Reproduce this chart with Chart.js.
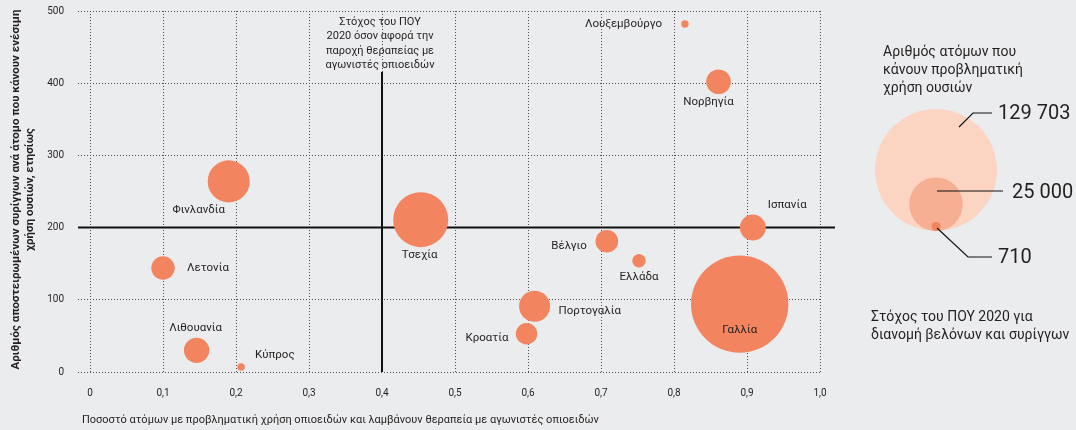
<!DOCTYPE html>
<html>
<head>
<meta charset="utf-8">
<script src="https://cdn.jsdelivr.net/npm/chart.js@4/dist/chart.umd.min.js"></script>
<style>
  html, body { margin: 0; padding: 0; background: #EBECEE; }
  #wrap { width: 1076px; height: 430px; }
</style>
</head>
<body>
<div id="wrap"><canvas id="c" width="1076" height="430"></canvas></div>
<script>
// ---------- DATA ----------
const countries = ['Λουξεμβούργο','Νορβηγία','Φινλανδία','Τσεχία','Ισπανία','Γαλλία','Βέλγιο','Ελλάδα','Λετονία','Πορτογαλία','Κροατία','Λιθουανία','Κύπρος'];
// share of high-risk opioid users in opioid agonist treatment
const treatmentShare = [0.815, 0.861, 0.190, 0.453, 0.908, 0.890, 0.708, 0.752, 0.100, 0.609, 0.598, 0.146, 0.207];
// syringes distributed per person who injects drugs, per year
const syringesPerPerson = [482, 402, 264, 211, 200, 94, 181, 154, 144, 91, 53, 30, 7];
// number of people with problem drug use (bubble size)
const problemUsers = [480, 5300, 15400, 26400, 5900, 82600, 4450, 1560, 4770, 8400, 4000, 5600, 480];

const xTickLabels = ['0','0,1','0,2','0,3','0,4','0,5','0,6','0,7','0,8','0,9','1,0'];
const yTickValues = [0, 100, 200, 300, 400, 500];

const legendValues = [129703, 25000, 710];
const treatmentTarget = 0.4;   // WHO 2020 target, OAT coverage
const syringeTarget = 200;     // WHO 2020 target, syringes per person

const yTitle = ['Αριθμός αποστειρωμένων συρίγγων ανά άτομο που κάνουν ενέσιμη', 'χρήση ουσιών, ετησίως'];
const xTitle = 'Ποσοστό ατόμων με προβληματική χρήση οπιοειδών και λαμβάνουν θεραπεία με αγωνιστές οπιοειδών';
const treatmentTargetText = ['Στόχος του ΠΟΥ', '2020 όσον αφορά την', 'παροχή θεραπείας με', 'αγωνιστές οπιοειδών'];
const legendTitle = ['Αριθμός ατόμων που', 'κάνουν προβληματική', 'χρήση ουσιών'];
const legendLabels = ['129 703', '25 000', '710'];
const syringeTargetText = ['Στόχος του ΠΟΥ 2020 για', 'διανομή βελόνων και συρίγγων'];

// ---------- STYLE ----------
const FONT = 'Roboto, "Open Sans", sans-serif';
const TEXT = '#231F20';
const BUBBLE = '#F2845F';
const MAX_R = 61; // radius of largest legend bubble (129 703)
const radiusFor = v => MAX_R * Math.sqrt(v / legendValues[0]);

// label placement relative to bubble centre: [dx, dy, align]
const labelPlacement = {
  'Λουξεμβούργο': [-23, 0, 'right'],
  'Νορβηγία': [-10, 20, 'center'],
  'Φινλανδία': [-30, 29, 'center'],
  'Τσεχία': [-1, 35, 'center'],
  'Ισπανία': [15, -22, 'left'],
  'Γαλλία': [0, 26, 'center'],
  'Βέλγιο': [-20, 5, 'right'],
  'Ελλάδα': [0, 16, 'center'],
  'Λετονία': [24, 0, 'left'],
  'Πορτογαλία': [24, 5, 'left'],
  'Κροατία': [-18, 4, 'right'],
  'Λιθουανία': [-1, -22, 'center'],
  'Κύπρος': [14, -12, 'left']
};

const points = countries.map((c, i) => ({
  x: treatmentShare[i], y: syringesPerPerson[i], r: radiusFor(problemUsers[i]), label: c
}));

const gridColor = '#4d4d4d';

const overlay = {
  id: 'overlay',
  beforeDatasetsDraw(chart) {
    const {ctx, scales: {x, y}, chartArea: a} = chart;
    ctx.save();
    ctx.strokeStyle = '#111';
    ctx.lineWidth = 2;
    const yp = y.getPixelForValue(syringeTarget);
    ctx.beginPath();
    ctx.moveTo(a.left - 12, yp);
    ctx.lineTo(a.right + 15, yp);
    ctx.stroke();
    const xp = x.getPixelForValue(treatmentTarget);
    ctx.beginPath();
    ctx.moveTo(xp, 72);
    ctx.lineTo(xp, a.bottom);
    ctx.stroke();
    // target annotation text
    ctx.fillStyle = TEXT;
    ctx.font = '11px ' + FONT;
    ctx.textAlign = 'center';
    ctx.textBaseline = 'middle';
    treatmentTargetText.forEach((t, i) => ctx.fillText(t, xp - 2, 22 + i * 14.4));
    ctx.restore();
  },
  afterDatasetsDraw(chart) {
    const {ctx} = chart;
    const meta = chart.getDatasetMeta(0);
    ctx.save();
    ctx.fillStyle = TEXT;
    ctx.font = '11.5px ' + FONT;
    ctx.textBaseline = 'middle';
    meta.data.forEach((el, i) => {
      const p = labelPlacement[countries[i]];
      ctx.textAlign = p[2];
      ctx.fillText(countries[i], el.x + p[0], el.y + p[1]);
    });
    ctx.restore();
  },
  afterDraw(chart) {
    const {ctx, chartArea: a} = chart;
    ctx.save();
    // axis titles
    ctx.fillStyle = TEXT;
    ctx.textBaseline = 'middle';
    ctx.font = '11px ' + FONT;
    ctx.textAlign = 'left';
    ctx.fillText(xTitle, 82, 420);
    ctx.save();
    ctx.translate(0, (a.top + a.bottom) / 2 - 2);
    ctx.rotate(-Math.PI / 2);
    ctx.font = 'bold 11.5px ' + FONT;
    ctx.textAlign = 'center';
    ctx.fillText(yTitle[0], 0, 16);
    ctx.fillText(yTitle[1], 0, 30);
    ctx.restore();

    // size legend
    const cx = 936, baseY = 231;
    const fills = ['#FBD4C2', '#F6AF93', '#F1835F'];
    legendValues.forEach((v, i) => {
      const r = radiusFor(v);
      ctx.fillStyle = fills[i];
      ctx.beginPath();
      ctx.arc(cx, baseY - r, r, 0, Math.PI * 2);
      ctx.fill();
    });
    ctx.fillStyle = TEXT;
    ctx.font = '14px ' + FONT;
    ctx.textAlign = 'left';
    legendTitle.forEach((t, i) => ctx.fillText(t, 883, 52 + i * 18));
    ctx.strokeStyle = '#111';
    ctx.lineWidth = 1.2;
    ctx.beginPath();
    ctx.moveTo(959, 127); ctx.lineTo(973, 113); ctx.lineTo(992, 113);
    ctx.moveTo(937, 191); ctx.lineTo(1003, 191);
    ctx.moveTo(937, 228); ctx.lineTo(968, 257); ctx.lineTo(992, 257);
    ctx.stroke();
    ctx.font = '20px ' + FONT;
    ctx.fillText(legendLabels[0], 998, 114);
    ctx.fillText(legendLabels[1], 1012, 193);
    ctx.fillText(legendLabels[2], 998, 258);
    ctx.font = '14px ' + FONT;
    syringeTargetText.forEach((t, i) => ctx.fillText(t, 871, 317 + i * 18));
    ctx.restore();
  }
};

new Chart(document.getElementById('c'), {
  type: 'bubble',
  data: {
    datasets: [{
      data: points,
      backgroundColor: BUBBLE,
      borderWidth: 0,
      hoverBorderWidth: 0
    }]
  },
  options: {
    responsive: false,
    devicePixelRatio: 1,
    animation: false,
    layout: { autoPadding: false, padding: { left: 0, right: 256, top: 11, bottom: 0 } },
    plugins: { legend: { display: false }, tooltip: { enabled: false } },
    scales: {
      x: {
        type: 'linear', min: 0, max: 1,
        afterFit: s => { s.height = 58; s.paddingLeft = 0; s.paddingRight = 0; },
        afterBuildTicks: s => { s.ticks = xTickLabels.map((_, i) => ({ value: i / 10 })); },
        ticks: {
          callback: (v, i) => xTickLabels[i],
          font: { family: FONT, size: 10 }, color: TEXT, padding: 15, maxRotation: 0, autoSkip: false
        },
        grid: { color: gridColor, lineWidth: 1, drawTicks: false },
        border: { display: false, dash: [1, 2] }
      },
      y: {
        type: 'linear', min: 0, max: 500,
        afterFit: s => { s.width = 90; s.paddingTop = 0; s.paddingBottom = 0; },
        afterBuildTicks: s => { s.ticks = yTickValues.map(v => ({ value: v })); },
        ticks: {
          callback: v => String(v),
          font: { family: FONT, size: 10 }, color: TEXT, padding: 14
        },
        grid: { color: gridColor, lineWidth: 1, drawTicks: true, tickLength: 12, tickBorderDash: [1, 2] },
        border: { display: false, dash: [1, 2] }
      }
    }
  },
  plugins: [overlay]
});
</script>
</body>
</html>
